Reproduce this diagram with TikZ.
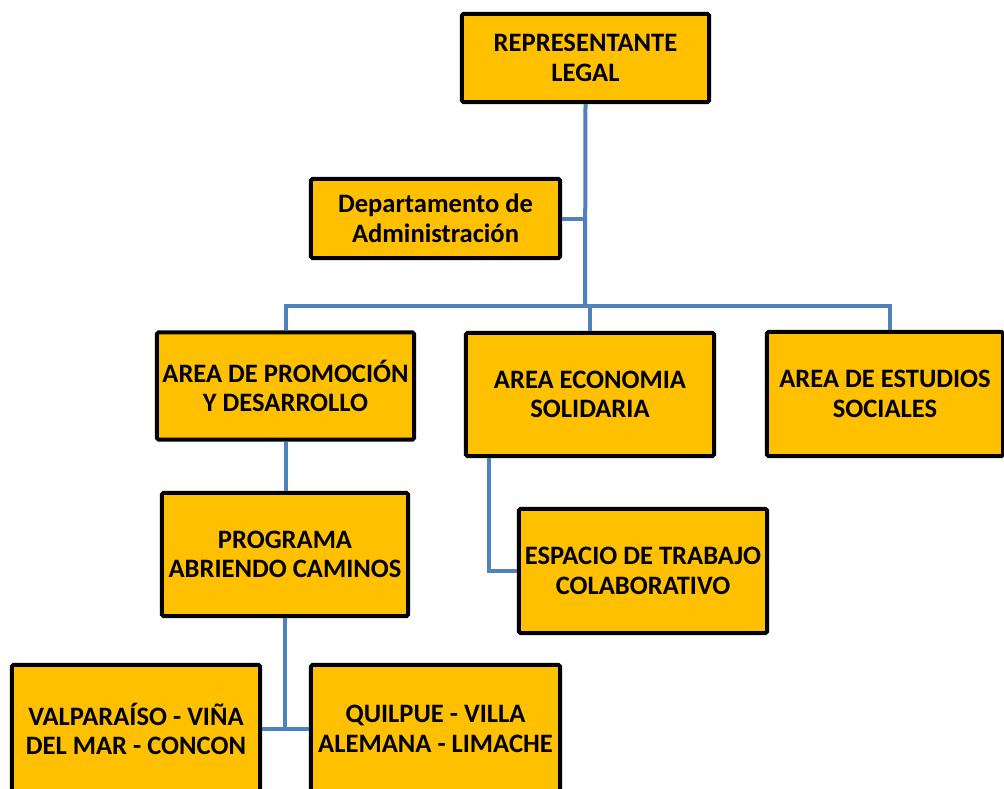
\documentclass[tikz,border=0pt]{standalone}
\usepackage{fontspec}
\setmainfont{Carlito}
\definecolor{boxfill}{HTML}{FFC000}
\definecolor{linkblue}{HTML}{4F81BD}
\tikzset{
  unit/.style={draw=black, line width=0.1cm, fill=boxfill, rounded corners=1pt,
    inner sep=0pt, align=center, font=\fontsize{18.9}{21}\selectfont\bfseries},
  link/.style={draw=linkblue, line width=0.1cm}
}
\begin{document}
\begin{tikzpicture}[x=0.025cm, y=-0.025cm]
  \useasboundingbox (0,0) rectangle (1004,788);
  % boxes
  \node[unit, minimum width=6.175cm, minimum height=2.2cm] (rep) at (585.5,58) {REPRESENTANTE\\LEGAL};
  \node[unit, minimum width=6.225cm, minimum height=1.975cm] (admin) at (435.5,218.5) {Departamento de\\Administración};
  \node[unit, minimum width=6.425cm, minimum height=2.675cm] (prom) at (285.5,386) {AREA DE PROMOCIÓN\\Y DESARROLLO};
  \node[unit, minimum width=6.2cm, minimum height=3.075cm] (eco) at (590,394.5) {AREA ECONOMIA\\SOLIDARIA};
  \node[unit, minimum width=5.9cm, minimum height=3.1cm] (est) at (885,394) {AREA DE ESTUDIOS\\SOCIALES};
  \node[unit, minimum width=6.15cm, minimum height=3.075cm] (prog) at (285,554.5) {PROGRAMA\\ABRIENDO CAMINOS};
  \node[unit, minimum width=6.2cm, minimum height=3.1cm] (esp) at (643,571) {ESPACIO DE TRABAJO\\COLABORATIVO};
  \node[unit, minimum width=6.2cm, minimum height=3.2cm] (valp) at (136,729) {VALPARAÍSO - VIÑA\\DEL MAR - CONCON};
  \node[unit, minimum width=6.225cm, minimum height=3.2cm] (quil) at (435.5,729) {QUILPUE - VILLA\\ALEMANA - LIMACHE};
  \coordinate (hub) at (585,306);
  % connectors
  \draw[link] (rep.south) -- (hub);
  \draw[link] (admin.east) -- (admin.east -| hub);
  \draw[link] (prom.north) |- (hub) -| ([xshift=0.125cm]est.north);
  \draw[link] (eco.north) -- (eco.north |- hub);
  \draw[link] (prom.south) -- (prom.south |- prog.north);
  \draw[link] ([xshift=0.625cm]eco.south west) |- (esp.west);
  \draw[link] (prog.south) -- (prog.south |- valp.east);
  \draw[link] (valp.east) -- (quil.west);
\end{tikzpicture}
\end{document}
